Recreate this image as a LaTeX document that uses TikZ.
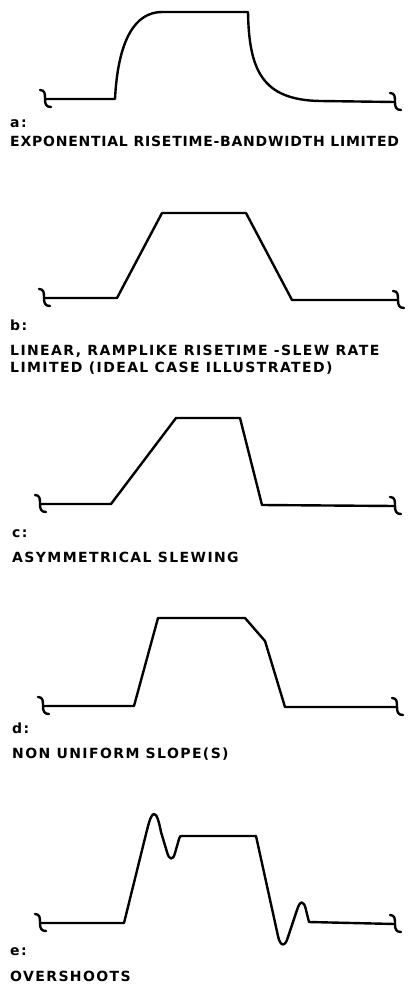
\documentclass[tikz,border=0pt]{standalone}
\usepackage{fontspec}
\usepackage{tikz}
\usetikzlibrary{calc}
\newfontfamily\lettering[LetterSpace=10]{DejaVu Sans}
\tikzset{
  wave/.style    = {line width=2.4pt, line join=round, line cap=round},
  tag/.style     = {anchor=base west, inner sep=0pt, font=\fontsize{14}{16}\lettering\bfseries},
  caption/.style = {anchor=base west, inner sep=0pt, font=\fontsize{14}{16}\lettering\bfseries},
}
% break mark on the end of a trace
\newcommand{\brkmark}[1]{\draw[wave] ($(#1)+(-5,-9)$) .. controls ($(#1)+(0,-9)$) and ($(#1)+(0,-5)$) .. (#1) .. controls ($(#1)+(0,5)$) and ($(#1)+(1,8)$) .. ($(#1)+(6,8)$);}

\begin{document}
\begin{tikzpicture}[x=1pt,y=-1pt]
\useasboundingbox (0,0) rectangle (417,985);
% a: exponential
\coordinate (aL) at (45,99); \coordinate (aR) at (395,102);
\draw[wave] (aL) -- (115,99) .. controls (118,40) and (135,12) .. (162,12) -- (248,12)
  .. controls (249,70) and (262,100) .. (320,101) -- (aR);
\brkmark{aL} \brkmark{aR}
\node[tag] (taga) at (10,127) {a:};
\node[caption] (capa) at (10,146) {\addfontfeature{LetterSpace=5.5}EXPONENTIAL RISETIME-BANDWIDTH LIMITED};
% b: linear ramp
\coordinate (bL) at (44,298); \coordinate (bR) at (398,300);
\draw[wave] (bL) -- (117,298) -- (162,213) -- (246,213) -- (292,300) -- (bR);
\brkmark{bL} \brkmark{bR}
\node[tag] (tagb) at (10,330) {b:};
\node[caption] (capb) at (10,355) {LINEAR, RAMPLIKE RISETIME -SLEW RATE};
\node[caption] (capbb) at (10,372) {LIMITED (IDEAL CASE ILLUSTRATED)};
% c: asymmetrical
\coordinate (cL) at (40,504); \coordinate (cR) at (395,506);
\draw[wave] (cL) -- (111,504) -- (176,418) -- (240,418) -- (262,505) -- (cR);
\brkmark{cL} \brkmark{cR}
\node[tag] (tagc) at (12,537) {c:};
\node[caption] (capc) at (12,562) {ASYMMETRICAL SLEWING};
% d: non uniform
\coordinate (dL) at (43,706); \coordinate (dR) at (397,707);
\draw[wave] (dL) -- (134,706) -- (158,618) -- (245,618) -- (265,641) -- (285,707) -- (dR);
\brkmark{dL} \brkmark{dR}
\node[tag] (tagd) at (12,733) {d:};
\node[caption] (capd) at (12,758) {NON UNIFORM SLOPE(S)};
% e: overshoots
\coordinate (eL) at (40,923); \coordinate (eR) at (395,924);
\draw[wave] (eL) -- (124,923) -- (147,830) .. controls (150,818) and (152,814) .. (154,814)
  .. controls (157,814) and (159,822) .. (161,832) -- (167,852)
  .. controls (169,860) and (173,861) .. (175,853) -- (179,839) .. controls (180,836) .. (182,836)
  -- (256,836) -- (278,936) .. controls (280,946) and (285,948) .. (288,937) -- (297,910)
  .. controls (300,900) and (304,900) .. (306,910) -- (309,922) -- (eR);
\brkmark{eL} \brkmark{eR}
\node[tag] (tage) at (10,955) {e:};
\node[caption] (cape) at (10,981) {OVERSHOOTS};
\end{tikzpicture}
\end{document}
